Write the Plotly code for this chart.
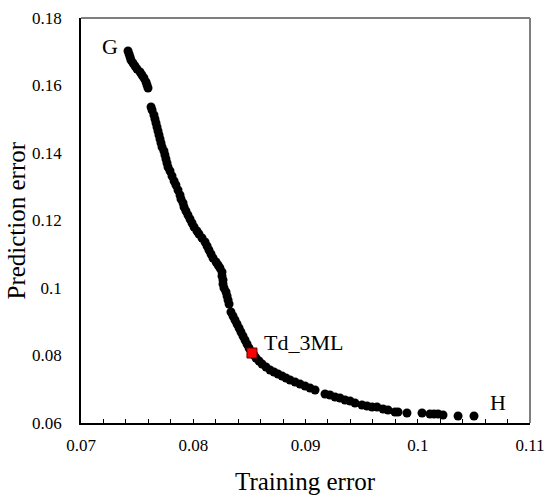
import plotly.graph_objects as go

# Pareto front points (training error, prediction error)
train_err = [
    0.07419, 0.07428, 0.07437, 0.07445, 0.07463, 0.07481, 0.07499, 0.07526, 0.07543, 0.07561,
    0.07579, 0.07588, 0.07597, 0.07624, 0.07633, 0.07650, 0.07659, 0.07668, 0.07677, 0.07686,
    0.07695, 0.07704, 0.07713, 0.07722, 0.07739, 0.07748, 0.07757, 0.07766, 0.07775, 0.07793,
    0.07811, 0.07829, 0.07846, 0.07864, 0.07882, 0.07891, 0.07909, 0.07918, 0.07935, 0.07953,
    0.07971, 0.07989, 0.08007, 0.08033, 0.08051, 0.08078, 0.08105, 0.08123, 0.08140, 0.08158,
    0.08176, 0.08203, 0.08221, 0.08238, 0.08256, 0.08256, 0.08265, 0.08265, 0.08274, 0.08292,
    0.08301, 0.08310, 0.08319, 0.08336, 0.08354, 0.08372, 0.08390, 0.08408, 0.08425, 0.08443,
    0.08461, 0.08479, 0.08497, 0.08541, 0.08559, 0.08586, 0.08613, 0.08648, 0.08684, 0.08719,
    0.08755, 0.08791, 0.08826, 0.08862, 0.08907, 0.08951, 0.08996, 0.09040, 0.09085, 0.09174,
    0.09218, 0.09263, 0.09307, 0.09352, 0.09397, 0.09441, 0.09503, 0.09548, 0.09593, 0.09637,
    0.09691, 0.09735, 0.09797, 0.09824, 0.09904, 0.10038, 0.10109, 0.10145, 0.10181, 0.10225,
    0.10359, 0.10501,
]
pred_err = [
    0.17022, 0.16933, 0.16844, 0.16756, 0.16667, 0.16578, 0.16489, 0.16400, 0.16311, 0.16222,
    0.16104, 0.16015, 0.15926, 0.15363, 0.15274, 0.15126, 0.15007, 0.14889, 0.14770, 0.14652,
    0.14533, 0.14415, 0.14296, 0.14178, 0.14059, 0.13941, 0.13822, 0.13704, 0.13585, 0.13467,
    0.13319, 0.13170, 0.13052, 0.12904, 0.12756, 0.12637, 0.12519, 0.12400, 0.12281, 0.12163,
    0.12044, 0.11926, 0.11807, 0.11689, 0.11600, 0.11481, 0.11363, 0.11244, 0.11126, 0.11007,
    0.10889, 0.10770, 0.10681, 0.10593, 0.10474, 0.10356, 0.10237, 0.10119, 0.10000, 0.09881,
    0.09763, 0.09644, 0.09526, 0.09289, 0.09170, 0.09052, 0.08933, 0.08815, 0.08696, 0.08578,
    0.08459, 0.08341, 0.08222, 0.08015, 0.07926, 0.07837, 0.07748, 0.07659, 0.07570, 0.07511,
    0.07452, 0.07393, 0.07333, 0.07274, 0.07215, 0.07156, 0.07096, 0.07037, 0.06978, 0.06859,
    0.06830, 0.06770, 0.06741, 0.06681, 0.06652, 0.06593, 0.06533, 0.06504, 0.06474, 0.06474,
    0.06415, 0.06385, 0.06326, 0.06326, 0.06296, 0.06296, 0.06267, 0.06267, 0.06267, 0.06237,
    0.06207, 0.06207,
]

# Selected model
sel_name = "Td_3ML"
sel_x = [0.08523]
sel_y = [0.08074]

# End-point labels
end_labels = ["G", "H"]
end_x = [0.07258, 0.10715]
end_y = [0.17141, 0.06593]

x_tickvals = [0.07, 0.08, 0.09, 0.10, 0.11]
x_ticktext = ["0.07", "0.08", "0.09", "0.1", "0.11"]
y_tickvals = [0.06, 0.08, 0.10, 0.12, 0.14, 0.16, 0.18]
y_ticktext = ["0.06", "0.08", "0.1", "0.12", "0.14", "0.16", "0.18"]

FONT = "Liberation Serif"

fig = go.Figure()
fig.add_trace(go.Scatter(
    x=train_err, y=pred_err, mode="markers",
    marker=dict(color="black", size=9, line=dict(width=0)),
    showlegend=False, hoverinfo="x+y",
))
fig.add_trace(go.Scatter(
    x=sel_x, y=sel_y, mode="markers",
    marker=dict(color="#ff0000", size=10, symbol="square",
                line=dict(color="#600000", width=1)),
    showlegend=False,
))
fig.add_annotation(x=sel_x[0], y=sel_y[0], text=sel_name, showarrow=False,
                   xanchor="left", yanchor="bottom", xshift=10, yshift=-4,
                   font=dict(family=FONT, size=22, color="black"))
for t, xx, yy in zip(end_labels, end_x, end_y):
    fig.add_annotation(x=xx, y=yy, text=t, showarrow=False,
                       xanchor="center", yanchor="middle",
                       font=dict(family=FONT, size=22, color="black"))

# axis titles
fig.add_annotation(xref="paper", yref="paper", x=0.5, y=0, yshift=-58,
                   text="Training error", showarrow=False,
                   xanchor="center", yanchor="middle",
                   font=dict(family=FONT, size=25, color="black"))
fig.add_annotation(xref="paper", yref="paper", x=0, y=0.5, xshift=-65,
                   text="Prediction error", showarrow=False, textangle=-90,
                   xanchor="center", yanchor="middle",
                   font=dict(family=FONT, size=25, color="black"))

# top and right frame lines (grey)
fig.add_shape(type="line", xref="paper", yref="paper", x0=0, x1=1, y0=1, y1=1,
              line=dict(color="#7f7f7f", width=2))
fig.add_shape(type="line", xref="paper", yref="paper", x0=1, x1=1, y0=0, y1=1,
              line=dict(color="#7f7f7f", width=2))

fig.update_xaxes(
    range=[0.07, 0.11], tickvals=x_tickvals, ticktext=x_ticktext,
    ticks="inside", ticklen=4, tickwidth=1, tickcolor="black",
    minor=dict(dtick=0.002, ticks="inside", ticklen=4, tickwidth=1, tickcolor="black"),
    showline=True, linecolor="black", linewidth=1.5,
    showgrid=False, zeroline=False, automargin=False,
    tickfont=dict(family=FONT, size=17, color="black"),
    ticklabelstandoff=6,
)
fig.update_yaxes(
    range=[0.06, 0.18], tickvals=y_tickvals, ticktext=y_ticktext,
    ticks="", showline=True, linecolor="black", linewidth=1.5,
    showgrid=False, zeroline=False, automargin=False,
    tickfont=dict(family=FONT, size=17, color="black"),
    ticklabelstandoff=14,
)
fig.update_layout(
    width=545, height=495,
    font=dict(family=FONT, size=17, color="black"),
    margin=dict(l=81, r=15, t=18, b=72, autoexpand=False),
    paper_bgcolor="white", plot_bgcolor="white",
)
fig.write_html("out.html")
